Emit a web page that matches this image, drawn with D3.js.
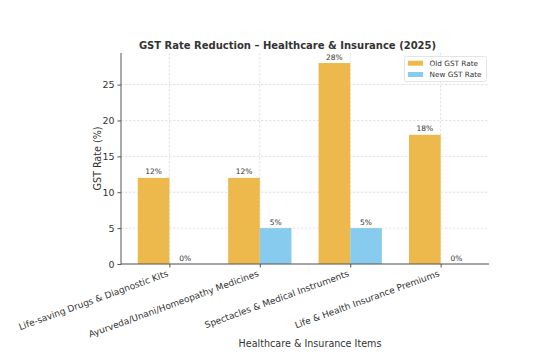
<!DOCTYPE html>
<html><head><meta charset="utf-8">
<script src="https://cdn.jsdelivr.net/npm/d3@7"></script>
<style>body{margin:0;background:#fff}svg{display:block}text{font-family:"DejaVu Sans",sans-serif;fill:#333}</style>
</head><body>
<script>
const categories = ["Life-saving Drugs & Diagnostic Kits","Ayurveda/Unani/Homeopathy Medicines","Spectacles & Medical Instruments","Life & Health Insurance Premiums"];
const oldRates = [12, 12, 28, 18];
const newRates = [0, 5, 5, 0];
const yTicks = [0, 5, 10, 15, 20, 25];
const seriesNames = ["Old GST Rate", "New GST Rate"];
const colors = ["#EDB94C", "#87CCEE"];

const W = 555, H = 360;
const L = 121, R = 489, T = 53, B = 264;
const bw = 0.35;
const svg = d3.select("body").append("svg").attr("width", W).attr("height", H);

const span = (categories.length - 1) + 2 * bw;
const x = d3.scaleLinear().domain([-bw - 0.05 * span, categories.length - 1 + bw + 0.05 * span]).range([L, R]);
const y = d3.scaleLinear().domain([0, d3.max(oldRates) * 1.05]).range([B, T]);

// grid
const g = svg.append("g");
g.selectAll("line.gy").data(yTicks).join("line")
  .attr("x1", L).attr("x2", R).attr("y1", d => y(d)).attr("y2", d => y(d))
  .attr("stroke", "#d6d6d6").attr("stroke-width", 0.7).attr("stroke-dasharray", "2.5,1.5");
g.selectAll("line.gx").data(categories.map((c,i)=>i)).join("line")
  .attr("x1", d => x(d)).attr("x2", d => x(d)).attr("y1", T).attr("y2", B)
  .attr("stroke", "#d6d6d6").attr("stroke-width", 0.7).attr("stroke-dasharray", "2.5,1.5");

// bars
const series = [oldRates, newRates];
series.forEach((vals, s) => {
  svg.append("g").selectAll("rect").data(vals).join("rect")
    .attr("x", (d,i) => x(i + (s === 0 ? -bw : 0)))
    .attr("width", (d,i) => x(i + bw) - x(i))
    .attr("y", d => y(d))
    .attr("height", d => y(0) - y(d))
    .attr("fill", colors[s]);
  svg.append("g").selectAll("text").data(vals).join("text")
    .attr("x", (d,i) => x(i + (s === 0 ? -bw/2 : bw/2)))
    .attr("y", d => y(d) - 3.5)
    .attr("text-anchor", "middle")
    .attr("font-size", "7.5px")
    .text(d => d + "%");
});

// axes
const yAxis = d3.axisLeft(y).tickValues(yTicks).tickSize(3.5).tickPadding(3);
const ya = svg.append("g").attr("transform", `translate(${L},0)`).call(yAxis);
ya.select(".domain").attr("stroke", "#555").attr("stroke-width", 1).attr("d", `M0,${T}V${B}`);
ya.selectAll(".tick line").attr("stroke", "#555");
ya.selectAll(".tick text").attr("font-size", "9.5px").attr("fill", "#333").attr("font-family", "DejaVu Sans");

const xAxis = d3.axisBottom(x).tickValues(categories.map((c,i)=>i)).tickFormat(i => categories[i]).tickSize(3.5).tickPadding(3);
const xa = svg.append("g").attr("transform", `translate(0,${B})`).call(xAxis);
xa.select(".domain").attr("stroke", "#555").attr("stroke-width", 1).attr("d", `M${L},0H${R}`);
xa.selectAll(".tick line").attr("stroke", "#555");
xa.selectAll(".tick text").attr("font-size", "9px").attr("fill", "#333").attr("font-family", "DejaVu Sans")
  .attr("text-anchor", "end").attr("dy", null).attr("y", 0)
  .attr("transform", "translate(-1,12) rotate(-20)");

// labels
svg.append("text").attr("x", 287.5).attr("y", 48.5).attr("text-anchor", "middle")
  .attr("font-size", "10px").attr("font-weight", "bold").text("GST Rate Reduction – Healthcare & Insurance (2025)");
svg.append("text").attr("x", 310).attr("y", 347).attr("text-anchor", "middle")
  .attr("font-size", "9.6px").text("Healthcare & Insurance Items");
svg.append("text").attr("transform", `translate(101,${(T+B)/2}) rotate(-90)`).attr("text-anchor", "middle")
  .attr("font-size", "9.6px").text("GST Rate (%)");

// legend
const lg = svg.append("g");
lg.append("rect").attr("x", 404.5).attr("y", 56.5).attr("width", 82).attr("height", 25).attr("rx", 2)
  .attr("fill", "#fff").attr("fill-opacity", 0.8).attr("stroke", "#ddd").attr("stroke-width", 0.8);
seriesNames.forEach((n, i) => {
  lg.append("rect").attr("x", 408).attr("y", 60.7 + i * 11.3).attr("width", 15).attr("height", 5).attr("fill", colors[i]);
  lg.append("text").attr("x", 429.5).attr("y", 66 + i * 11.3).attr("font-size", "7.3px").text(n);
});
</script>
</body></html>
